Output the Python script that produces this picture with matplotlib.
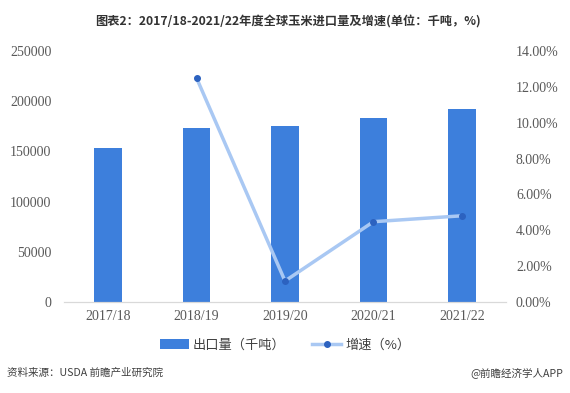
import matplotlib

matplotlib.use("Agg")

import matplotlib.pyplot as plt
from matplotlib.ticker import FuncFormatter

plt.rcParams["font.family"] = ["Noto Sans CJK SC", "DejaVu Sans"]

seasons = ["2017/18", "2018/19", "2019/20", "2020/21", "2021/22"]
imports_kt = [153500, 173300, 175300, 183300, 192200]
growth_seasons = ["2018/19", "2019/20", "2020/21", "2021/22"]
growth_pct = [12.5, 1.17, 4.48, 4.81]

BAR_COLOR = "#3d7fdc"
LINE_COLOR = "#a9c8f3"
MARKER_COLOR = "#2c62c0"
TICK_COLOR = "#595959"
SERIF = ["Liberation Serif", "DejaVu Serif"]

fig = plt.figure(figsize=(5.7, 3.93), dpi=100)
ax = fig.add_axes([0.112, 0.2316, 0.776, 0.6384])
ax2 = ax.twinx()

x = list(range(len(seasons)))
ax.bar(x, imports_kt, width=0.31, color=BAR_COLOR, zorder=2, label="出口量（千吨）")

gx = [seasons.index(s) for s in growth_seasons]
ax2.plot(gx, growth_pct, color=LINE_COLOR, linewidth=2.5, zorder=3,
         marker="o", markersize=4, markerfacecolor=MARKER_COLOR,
         markeredgecolor=MARKER_COLOR, label="增速（%）")

ax.set_xlim(-0.5, len(seasons) - 0.5)
ax.set_ylim(0, 250000)
ax.set_yticks(range(0, 250001, 50000))
ax2.set_ylim(0, 14)
ax2.set_yticks(range(0, 15, 2))
ax2.yaxis.set_major_formatter(FuncFormatter(lambda v, _: f"{v:.2f}%"))

ax.set_xticks(x)
ax.set_xticklabels(seasons)

for a in (ax, ax2):
    for side in ("top", "left", "right"):
        a.spines[side].set_visible(False)
    a.spines["bottom"].set_color("#d9d9d9")
    a.tick_params(length=0, colors=TICK_COLOR, labelsize=10)
    for lbl in a.get_xticklabels() + a.get_yticklabels():
        lbl.set_family(SERIF)
ax.tick_params(axis="x", pad=6)
ax.tick_params(axis="y", pad=9)
ax2.tick_params(axis="y", pad=7)

fig.text(0.505, 0.944, "图表2：2017/18-2021/22年度全球玉米进口量及增速(单位：千吨，%)",
         ha="center", va="center", fontsize=8.8, fontweight="bold", color="#333333")

h1, l1 = ax.get_legend_handles_labels()
h2, l2 = ax2.get_legend_handles_labels()
fig.legend(h1 + h2, l1 + l2, loc="center", bbox_to_anchor=(0.5, 0.122), ncol=2,
           frameon=False, fontsize=9.5, handlelength=2.2, columnspacing=2.0,
           handletextpad=0.3, labelcolor="#404040")

fig.text(0.012, 0.052, "资料来源：USDA 前瞻产业研究院", ha="left", va="center",
         fontsize=7.6, color="#404040")
fig.text(0.988, 0.052, "@前瞻经济学人APP", ha="right", va="center",
         fontsize=7.6, color="#404040")

fig.savefig("out.png", dpi=100)
